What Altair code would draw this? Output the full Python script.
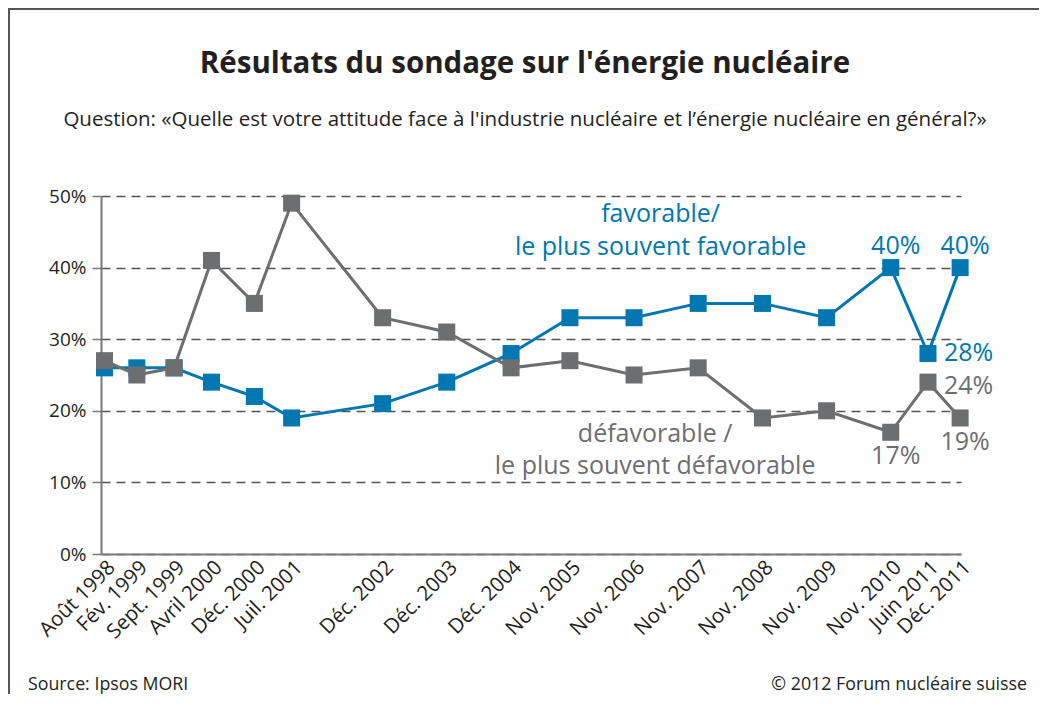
import json
import altair as alt
import pandas as pd

# ---------------- data ----------------
dates = ["1998-08-01", "1999-02-01", "1999-09-01", "2000-04-01", "2000-12-01",
         "2001-07-01", "2002-12-01", "2003-12-01", "2004-12-01", "2005-11-01",
         "2006-11-01", "2007-11-01", "2008-11-01", "2009-11-01", "2010-11-01",
         "2011-06-01", "2011-12-01"]
date_labels = ["Août 1998", "Fév. 1999", "Sept. 1999", "Avril 2000", "Déc. 2000",
               "Juil. 2001", "Déc. 2002", "Déc. 2003", "Déc. 2004", "Nov. 2005",
               "Nov. 2006", "Nov. 2007", "Nov. 2008", "Nov. 2009", "Nov. 2010",
               "Juin 2011", "Déc. 2011"]
favorable = [26, 26, 26, 24, 22, 19, 21, 24, 28, 33, 33, 35, 35, 33, 40, 28, 40]
defavorable = [27, 25, 26, 41, 35, 49, 33, 31, 26, 27, 25, 26, 19, 20, 17, 24, 19]

y_ticks = [0, 10, 20, 30, 40, 50]

# series annotations (text, anchor date, anchor value)
fav_ann_text = ["favorable/", "le plus souvent favorable"]
fav_ann_date = ["2007-04-01", "2007-04-01"]
fav_ann_value = [46.4, 41.8]
def_ann_text = ["défavorable /", "le plus souvent défavorable"]
def_ann_date = ["2007-03-01", "2007-03-01"]
def_ann_value = [15.7, 11.2]

# which points carry a value label
fav_above = [14, 16]
fav_right = [15]
def_right = [15]
def_below = [14, 16]

title_text = "Résultats du sondage sur l'énergie nucléaire"
subtitle_text = "Question: «Quelle est votre attitude face à l'industrie nucléaire et l’énergie nucléaire en général?»"
source_text = "Source: Ipsos MORI"
copyright_text = "© 2012 Forum nucléaire suisse"

# ---------------- styles ----------------
FONT = "Open Sans"
BLUE = "#0077b0"
GREY = "#6d6e70"
TEXT = "#231f20"
W, H = 860, 358
PAD_L, PAD_T, PAD_R, PAD_B = 93, 188, 78, 140

fav_df = pd.DataFrame({"date": dates, "value": favorable, "idx": range(len(dates))})
def_df = pd.DataFrame({"date": dates, "value": defavorable, "idx": range(len(dates))})

to_ms = lambda d: int(pd.Timestamp(d, tz="UTC").value // 10**6)
tick_ms = [to_ms(d) for d in dates]
keys = [d[:7] for d in dates]
label_expr = f"{json.dumps(date_labels, ensure_ascii=False)}[indexof({json.dumps(keys)}, utcFormat(datum.value, '%Y-%m'))]"

x_scale = alt.Scale(type="utc", domain=[to_ms("1998-07-12"), to_ms("2011-12-06")])
y_scale = alt.Scale(domain=[0, 50], nice=False)

x_axis = alt.Axis(values=tick_ms, labelExpr=label_expr, labelAngle=-45,
                  labelAlign="right", labelBaseline="top", labelPadding=3,
                  ticks=False, grid=False, domain=True, domainColor="#7a7a7a",
                  domainWidth=2, labelFont=FONT, labelFontSize=20.5,
                  labelColor=TEXT, labelOverlap=False, title=None)
y_axis = alt.Axis(values=y_ticks, labelExpr="datum.value + '%'", grid=True,
                  gridColor="#555555", gridDash=[9, 6], gridWidth=1.5,
                  domain=True, domainColor="#7a7a7a", domainWidth=2,
                  tickSize=9, tickColor="#7a7a7a", tickWidth=1.5,
                  labelPadding=6, labelFont=FONT, labelFontSize=19,
                  labelColor=TEXT, title=None)

X = alt.X("date:T", scale=x_scale, axis=x_axis)
Y = alt.Y("value:Q", scale=y_scale, axis=y_axis)


def series(df, color):
    line = alt.Chart(df).mark_line(color=color, strokeWidth=3).encode(x=X, y=Y)
    pts = alt.Chart(df).mark_point(shape="square", filled=True, opacity=1,
                                   size=290, color=color).encode(x=X, y=Y)
    return line + pts


def value_labels(df, idxs, color, **kw):
    return (alt.Chart(df)
            .transform_filter(alt.FieldOneOfPredicate(field="idx", oneOf=idxs))
            .transform_calculate(lbl="datum.value + '%'")
            .mark_text(font=FONT, fontSize=25, color=color, **kw)
            .encode(x=X, y=Y, text="lbl:N"))


def annotations(texts, ds, vs, color):
    d = pd.DataFrame({"t": texts, "date": ds, "value": vs})
    return alt.Chart(d).mark_text(font=FONT, fontSize=25, color=color,
                                  align="center", baseline="alphabetic").encode(
        x=X, y=Y, text="t:N")


one = pd.DataFrame({"a": [0]})


def free_text(txt, x, y, size, align, weight="normal"):
    return alt.Chart(one).mark_text(font=FONT, fontSize=size, color=TEXT, align=align,
                                    baseline="alphabetic", fontWeight=weight).encode(
        x=alt.value(x), y=alt.value(y), text=alt.value(txt))


title_mark = free_text(title_text, 424, -123, 29.5, "center", "bold")
subtitle_mark = free_text(subtitle_text, 424, -70, 20.5, "center")
footer_left = free_text(source_text, -73, 494, 17.8, "left")
footer_right = free_text(copyright_text, 926, 494, 17.8, "right")

border_top = alt.Chart(one).mark_rule(color="#555555", strokeWidth=2).encode(
    x=alt.value(-PAD_L), x2=alt.value(W + PAD_R), y=alt.value(-PAD_T + 1))
border_left = alt.Chart(one).mark_rule(color="#555555", strokeWidth=2).encode(
    x=alt.value(-PAD_L + 1), y=alt.value(-PAD_T), y2=alt.value(H + PAD_B))

chart = alt.layer(
    series(fav_df, BLUE),
    series(def_df, GREY),
    value_labels(fav_df, fav_above, BLUE, align="center", baseline="alphabetic", dy=-14, dx=5),
    value_labels(fav_df, fav_right, BLUE, align="left", baseline="middle", dx=16, dy=-1),
    value_labels(def_df, def_right, GREY, align="left", baseline="middle", dx=16, dy=4),
    value_labels(def_df, def_below, GREY, align="center", baseline="middle", dy=24, dx=5),
    annotations(fav_ann_text, fav_ann_date, fav_ann_value, BLUE),
    annotations(def_ann_text, def_ann_date, def_ann_value, GREY),
    title_mark, subtitle_mark, footer_left, footer_right, border_top, border_left,
).properties(
    width=W, height=H,
    autosize=alt.AutoSizeParams(type="none"),
    padding={"left": PAD_L, "top": PAD_T, "right": PAD_R, "bottom": PAD_B},
    background="white",
).configure_view(stroke=None)

chart.save("out.html", embed_options={"renderer": "svg", "actions": False})
